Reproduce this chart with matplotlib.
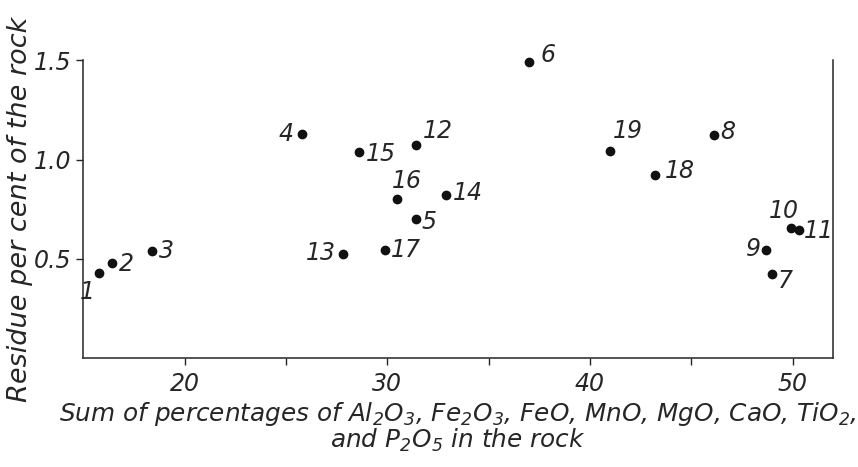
import matplotlib
matplotlib.use('Agg')
import matplotlib.pyplot as plt

plt.rcParams['font.family'] = 'DejaVu Sans'
plt.rcParams['mathtext.fontset'] = 'custom'
plt.rcParams['mathtext.rm'] = 'DejaVu Sans:italic'
plt.rcParams['mathtext.it'] = 'DejaVu Sans:italic'

# rock number, oxide sum (%), residue (%)
labels = ['1', '2', '3', '4', '5', '6', '7', '8', '9', '10',
          '11', '12', '13', '14', '15', '16', '17', '18', '19']
oxide_sum = [15.8, 16.4, 18.4, 25.8, 31.4, 37.0, 49.0, 46.1, 48.7, 49.9,
             50.3, 31.4, 27.8, 32.9, 28.6, 30.5, 29.9, 43.2, 41.0]
residue = [0.43, 0.48, 0.54, 1.13, 0.70, 1.49, 0.425, 1.125, 0.545, 0.655,
           0.645, 1.075, 0.525, 0.82, 1.04, 0.80, 0.545, 0.92, 1.045]

# label placement (offset in points, horizontal alignment)
offsets = {
    '1': ((-9, -14), 'center'), '2': ((5, -1), 'left'), '3': ((5, 0), 'left'),
    '4': ((-6, 0), 'right'), '5': ((4, -2), 'left'), '6': ((8, 5), 'left'),
    '7': ((4, -5), 'left'), '8': ((5, 2), 'left'), '9': ((-4, 1), 'right'),
    '10': ((-5, 12), 'center'), '11': ((4, -1), 'left'), '12': ((5, 10), 'left'),
    '13': ((-5, 1), 'right'), '14': ((5, 2), 'left'), '15': ((5, -2), 'left'),
    '16': ((7, 13), 'center'), '17': ((4, 0), 'left'), '18': ((7, 3), 'left'),
    '19': ((2, 14), 'left'),
}

ink = '#262626'

fig = plt.figure(figsize=(8.58, 4.67), dpi=100)
ax = fig.add_axes([0.097, 0.233, 0.874, 0.638])

ax.plot(oxide_sum, residue, 'o', color='#111111', markersize=6, clip_on=False)
for lab, x, y in zip(labels, oxide_sum, residue):
    off, ha = offsets[lab]
    ax.annotate(lab, (x, y), xytext=off, textcoords='offset points',
                ha=ha, va='center', fontsize=17, style='italic', color=ink)

ax.set_xlim(15, 52)
ax.set_ylim(0, 1.5)
ax.set_xticks([20, 30, 40, 50])
ax.set_xticks([25, 35, 45], minor=True)
ax.set_yticks([0.5, 1.0, 1.5])
ax.set_yticklabels(['0.5', '1.0', '1.5'])
ax.tick_params(which='both', direction='out', length=5, width=1, labelsize=17,
               colors=ink)
ax.tick_params(axis='x', pad=5)
for lbl in ax.get_xticklabels() + ax.get_yticklabels():
    lbl.set_style('italic')
ax.spines['top'].set_visible(False)
for s in ['left', 'right', 'bottom']:
    ax.spines[s].set_linewidth(1.1)
    ax.spines[s].set_color(ink)

ax.set_ylabel('Residue per cent of the rock', fontsize=19.5, style='italic',
              color=ink, labelpad=1)
ax.set_xlabel('Sum of percentages of Al$_2$O$_3$, Fe$_2$O$_3$, FeO, MnO, MgO, CaO, TiO$_2$,\n'
              'and P$_2$O$_5$ in the rock', fontsize=17.8, style='italic',
              color=ink, linespacing=0.95, labelpad=3)

fig.savefig('out.png', dpi=100)
